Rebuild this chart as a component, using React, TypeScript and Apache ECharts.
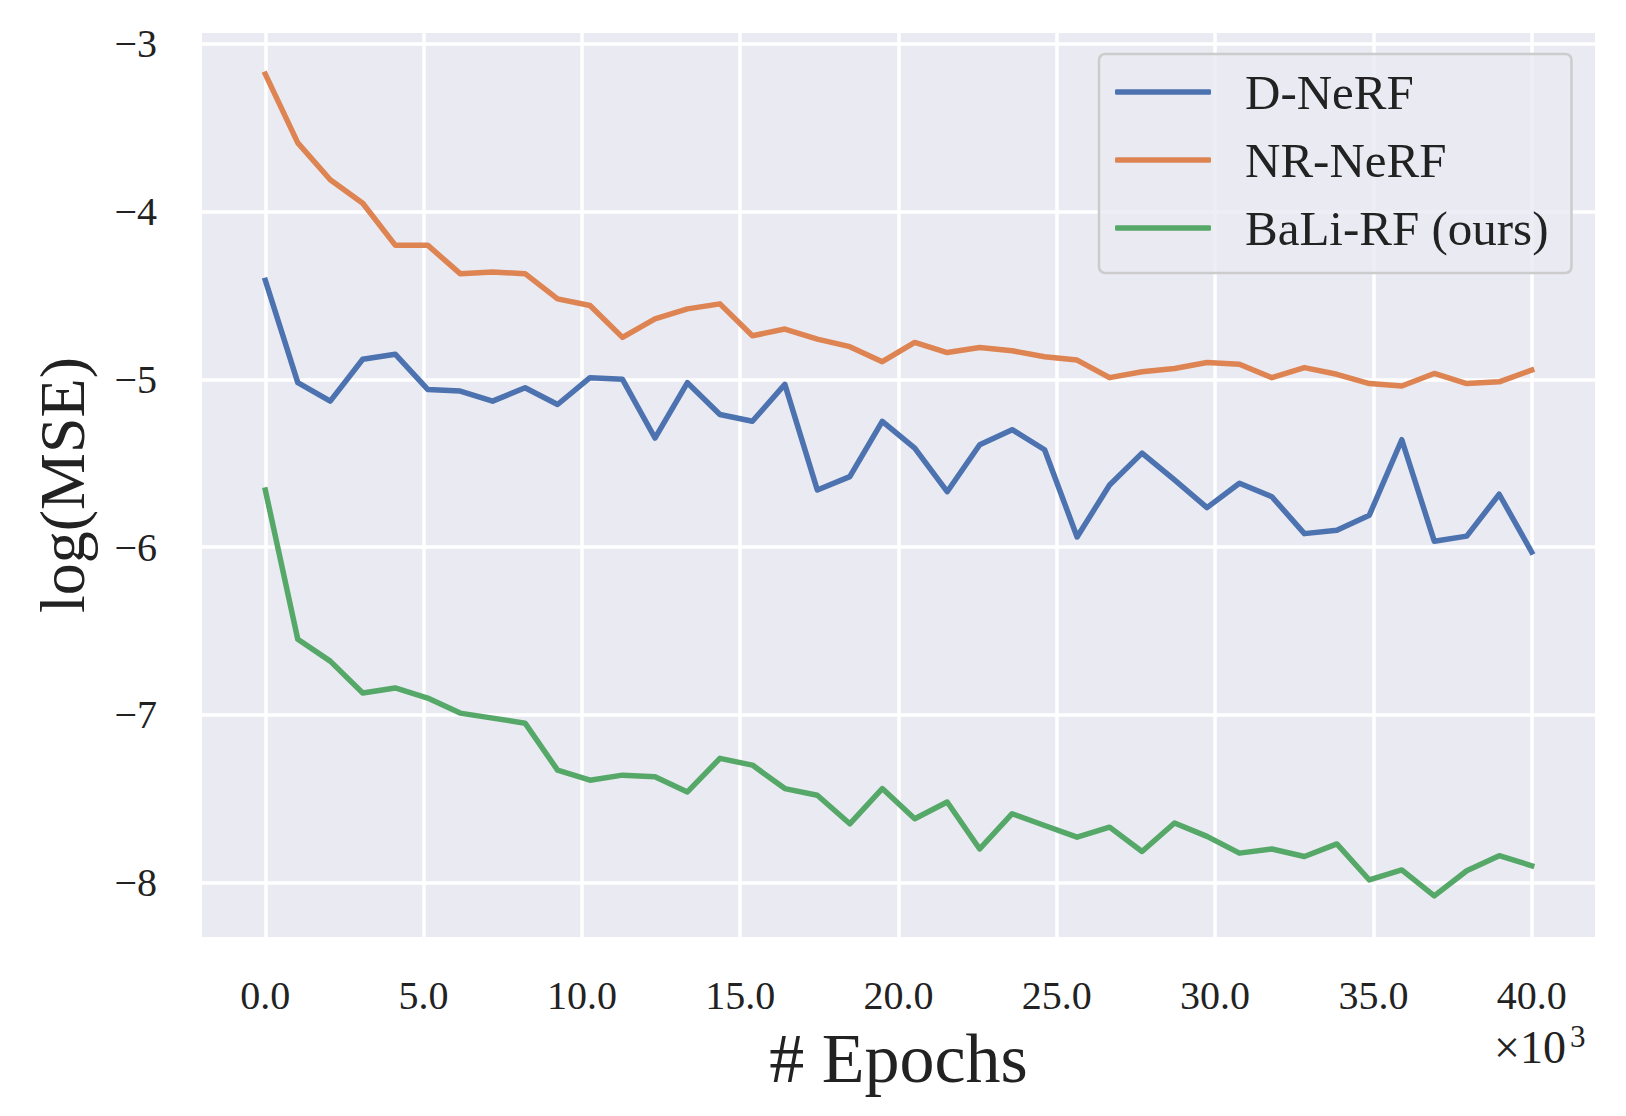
import React, { useEffect, useRef } from "react";
import * as echarts from "echarts";

// Epochs (×10^3): 40 evenly spaced checkpoints from 0 to 40
const epochs = [
  0.0, 1.026, 2.051, 3.077, 4.103, 5.128, 6.154, 7.179, 8.205, 9.231,
  10.256, 11.282, 12.308, 13.333, 14.359, 15.385, 16.41, 17.436, 18.462, 19.487,
  20.513, 21.538, 22.564, 23.59, 24.615, 25.641, 26.667, 27.692, 28.718, 29.744,
  30.769, 31.795, 32.821, 33.846, 34.872, 35.897, 36.923, 37.949, 38.974, 40.0,
];

const seriesNames = ["D-NeRF", "NR-NeRF", "BaLi-RF (ours)"];
const seriesColors = ["#4C72B0", "#DD8452", "#55A868"];

const dNerf = [
  -4.41, -5.02, -5.13, -4.88, -4.85, -5.06, -5.07, -5.13, -5.05, -5.15,
  -4.99, -5.0, -5.35, -5.02, -5.21, -5.25, -5.03, -5.66, -5.58, -5.25,
  -5.41, -5.67, -5.39, -5.3, -5.42, -5.94, -5.63, -5.44, -5.6, -5.765,
  -5.62, -5.7, -5.92, -5.9, -5.81, -5.36, -5.965, -5.935, -5.685, -6.03,
];

const nrNerf = [
  -3.18, -3.59, -3.81, -3.95, -4.2, -4.2, -4.37, -4.36, -4.37, -4.52,
  -4.56, -4.75, -4.64, -4.58, -4.55, -4.74, -4.7, -4.76, -4.805, -4.895,
  -4.78, -4.84, -4.81, -4.83, -4.865, -4.885, -4.99, -4.955, -4.935, -4.9,
  -4.91, -4.99, -4.93, -4.97, -5.025, -5.04, -4.965, -5.025, -5.015, -4.945,
];

const baliRf = [
  -5.66, -6.55, -6.68, -6.87, -6.84, -6.9, -6.99, -7.02, -7.05, -7.33,
  -7.39, -7.36, -7.37, -7.46, -7.26, -7.3, -7.44, -7.48, -7.65, -7.44,
  -7.62, -7.52, -7.8, -7.59, -7.66, -7.73, -7.67, -7.815, -7.645, -7.725,
  -7.825, -7.8, -7.845, -7.77, -7.985, -7.925, -8.08, -7.93, -7.84, -7.9,
];

const xTickStep = 5;
const yTickStep = 1;
const xAxisTitle = "# Epochs";
const yAxisTitle = "log(MSE)";
const offsetBase = "×10";
const offsetExp = "3";

const FONT = "'Liberation Serif', 'DejaVu Serif', serif";
const TEXT = "#222222";

export default function App() {
  const ref = useRef<HTMLDivElement>(null);

  useEffect(() => {
    if (!ref.current) return;
    const chart = echarts.init(ref.current, undefined, { renderer: "svg" });

    const allY = [...dNerf, ...nrNerf, ...baliRf];
    const yLo = Math.min(...allY);
    const yHi = Math.max(...allY);
    const yPad = (yHi - yLo) * 0.05;
    const xLo = Math.min(...epochs);
    const xHi = Math.max(...epochs);
    const xPad = (xHi - xLo) * 0.05;

    const allSeries = [dNerf, nrNerf, baliRf];

    chart.setOption({
      animation: false,
      backgroundColor: "#ffffff",
      grid: {
        left: 202,
        top: 33,
        width: 1393,
        height: 904,
        show: true,
        backgroundColor: "#EAEAF2",
        borderWidth: 0,
        containLabel: false,
      },
      xAxis: {
        type: "value",
        min: xLo - xPad,
        max: xHi + xPad,
        minInterval: xTickStep,
        maxInterval: xTickStep,
        axisLine: { show: false },
        axisTick: { show: false },
        splitLine: {
          show: true,
          showMinLine: false,
          showMaxLine: false,
          lineStyle: { color: "#ffffff", width: 3.5 },
        },
        axisLabel: {
          showMinLabel: false,
          showMaxLabel: false,
          margin: 38,
          fontFamily: FONT,
          fontSize: 40,
          color: TEXT,
          formatter: (v: number) => v.toFixed(1),
        },
        name: xAxisTitle,
        nameLocation: "middle",
        nameGap: 86,
        nameTextStyle: { fontFamily: FONT, fontSize: 70, color: TEXT },
      },
      yAxis: {
        type: "value",
        min: yLo - yPad,
        max: yHi + yPad,
        minInterval: yTickStep,
        maxInterval: yTickStep,
        axisLine: { show: false },
        axisTick: { show: false },
        splitLine: {
          show: true,
          showMinLine: false,
          showMaxLine: false,
          lineStyle: { color: "#ffffff", width: 3.5 },
        },
        axisLabel: {
          showMinLabel: false,
          showMaxLabel: false,
          margin: 45,
          fontFamily: FONT,
          fontSize: 40,
          color: TEXT,
          padding: [12, 0, 0, 0],
          formatter: (v: number) =>
            (v < 0 ? "\u2212" : "") + Math.abs(v).toFixed(0),
        },
        name: yAxisTitle,
        nameLocation: "middle",
        nameRotate: 90,
        nameGap: 108,
        nameTextStyle: { fontFamily: FONT, fontSize: 64, color: TEXT },
      },
      legend: {
        orient: "vertical",
        left: 1099,
        top: 54,
        data: seriesNames,
        icon: "roundRect",
        backgroundColor: "rgba(234,234,242,0.8)",
        borderColor: "#cccccc",
        borderWidth: 2.5,
        borderRadius: 6,
        padding: [13, 23, 20, 16],
        itemWidth: 96,
        itemHeight: 5.5,
        itemGap: 18,
        textStyle: {
          fontFamily: FONT,
          fontSize: 49,
          color: TEXT,
          lineHeight: 50,
          padding: [0, 0, 0, 29],
        },
      },
      graphic: [
        {
          type: "text",
          x: 1566,
          y: 1047,
          style: {
            text: offsetBase,
            fontFamily: FONT,
            fontSize: 46,
            fill: TEXT,
            textAlign: "right",
            textVerticalAlign: "middle",
          },
        },
        {
          type: "text",
          x: 1570,
          y: 1036,
          style: {
            text: offsetExp,
            fontFamily: FONT,
            fontSize: 31,
            fill: TEXT,
            textAlign: "left",
            textVerticalAlign: "middle",
          },
        },
      ],
      series: allSeries.map((vals, k) => ({
        name: seriesNames[k],
        type: "line",
        symbol: "none",
        data: epochs.map((x, i) => [x, vals[i]]),
        itemStyle: { color: seriesColors[k] },
        lineStyle: {
          color: seriesColors[k],
          width: 5.5,
          join: "round",
          cap: "square",
        },
      })),
    });

    return () => chart.dispose();
  }, []);

  return (
    <div
      ref={ref}
      style={{
        position: "fixed",
        left: 0,
        top: 0,
        width: 1626,
        height: 1116,
        background: "#ffffff",
      }}
    />
  );
}
